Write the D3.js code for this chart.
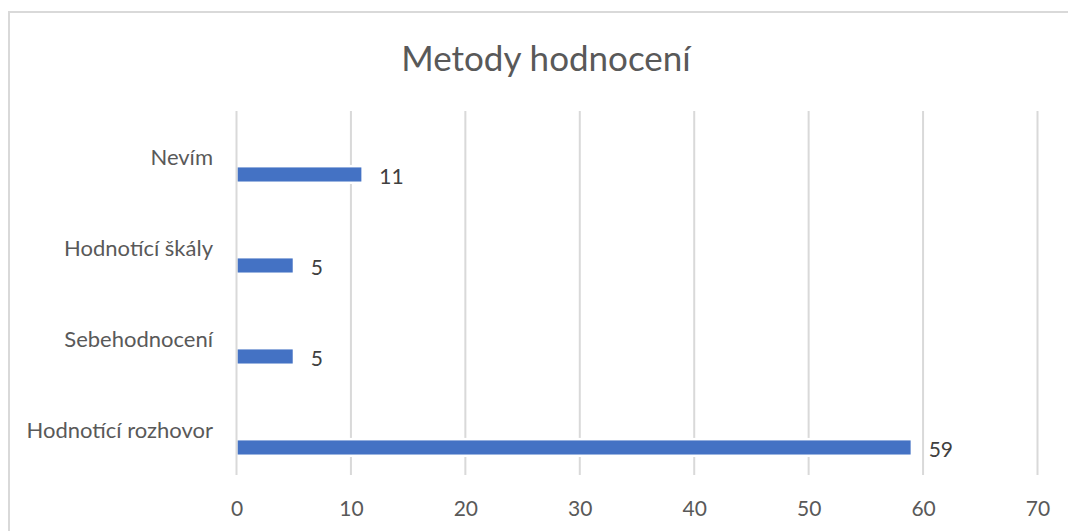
<!DOCTYPE html>
<html>
<head>
<meta charset="utf-8">
<script src="https://cdn.jsdelivr.net/npm/d3@7"></script>
<style>
  body { margin: 0; background: #fff; }
  svg { display: block; }
</style>
</head>
<body>
<svg width="1068" height="531"></svg>
<script>
const title = 'Metody hodnocení';
const categories = ['Nevím', 'Hodnotící škály', 'Sebehodnocení', 'Hodnotící rozhovor'];
const values = [11, 5, 5, 59];
const tickValues = [0, 10, 20, 30, 40, 50, 60, 70];

function Start(){
    const svg = d3.select('svg');
    const width = +svg.attr('width');
    const textColor = '#595959';
    const gridColor = '#d9d9d9';
    const font = 'Lato, "Open Sans", sans-serif';
    const fontSize = 21;

    // chart frame
    svg.append('rect')
        .attr('x', 9)
        .attr('y', 12)
        .attr('width', width + 20)
        .attr('height', 600)
        .attr('fill', 'white')
        .attr('stroke', gridColor)
        .attr('stroke-width', 2);

    svg.append('text')
        .attr('x', 546)
        .attr('y', 57)
        .attr('text-anchor', 'middle')
        .attr('dominant-baseline', 'central')
        .attr('font-family', font)
        .attr('font-size', 35)
        .attr('fill', textColor)
        .text(title);

    const plot = {left: 236.5, right: 1037.5, top: 111, bottom: 475};

    const x = d3.scaleLinear()
        .domain([0, 70])
        .range([plot.left, plot.right]);

    const y = d3.scaleBand()
        .domain(categories)
        .range([plot.top, plot.bottom]);

    // gridlines
    svg.append('g')
        .selectAll('line')
        .data(tickValues.slice(1))
        .join('line')
        .attr('x1', d => x(d)).attr('x2', d => x(d))
        .attr('y1', plot.top).attr('y2', plot.bottom)
        .attr('stroke', gridColor)
        .attr('stroke-width', 2);

    // bars, white outline cuts the gridlines like in Excel
    const barStart = 0.62;
    const barSize = 0.155;
    svg.append('g')
        .selectAll('rect')
        .data(values)
        .join('rect')
        .attr('x', x(0) + 1)
        .attr('y', (d, i) => y(categories[i]) + y.bandwidth() * barStart)
        .attr('width', d => x(d) - x(0) - 2)
        .attr('height', y.bandwidth() * barSize)
        .attr('fill', '#4472c4')
        .attr('stroke', 'white')
        .attr('stroke-width', 5)
        .attr('paint-order', 'stroke');

    // value axis line at zero
    svg.append('line')
        .attr('x1', x(0)).attr('x2', x(0))
        .attr('y1', plot.top).attr('y2', plot.bottom)
        .attr('stroke', gridColor)
        .attr('stroke-width', 2);

    // data labels
    svg.append('g')
        .selectAll('text')
        .data(values)
        .join('text')
        .attr('x', d => x(d) + 17)
        .attr('y', (d, i) => y(categories[i]) + y.bandwidth() * (barStart + barSize / 2) + 1)
        .attr('dominant-baseline', 'central')
        .attr('font-family', font)
        .attr('font-size', fontSize)
        .attr('fill', '#404040')
        .text(d => d);

    // category labels
    svg.append('g')
        .selectAll('text')
        .data(categories)
        .join('text')
        .attr('x', 213)
        .attr('y', d => y(d) + y.bandwidth() / 2)
        .attr('text-anchor', 'end')
        .attr('dominant-baseline', 'central')
        .attr('font-family', font)
        .attr('font-size', 22)
        .attr('fill', textColor)
        .text(d => d);

    // value axis ticks
    const xAxis = svg.append('g')
        .attr('transform', `translate(0,${plot.bottom})`)
        .call(d3.axisBottom(x).tickValues(tickValues).tickSize(0));
    xAxis.select('.domain').remove();
    xAxis.selectAll('text')
        .attr('y', 32)
        .attr('dy', null)
        .attr('dominant-baseline', 'central')
        .attr('font-family', font)
        .attr('font-size', fontSize)
        .attr('fill', textColor);
}
Start();
</script>
</body>
</html>
